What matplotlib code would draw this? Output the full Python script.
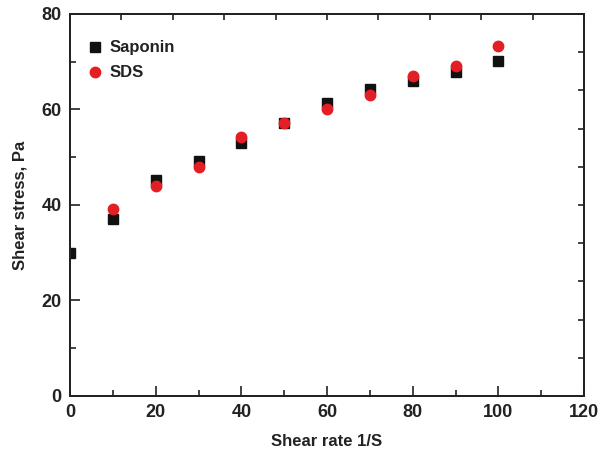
import matplotlib
matplotlib.use("Agg")
import matplotlib.pyplot as plt
import numpy as np

shear_rate_sap = [0, 10, 20, 30, 40, 50, 60, 70, 80, 90, 100]
saponin = [30.0, 37.0, 45.2, 49.2, 53.0, 57.1, 61.3, 64.2, 66.0, 67.9, 70.2]
shear_rate_sds = [10, 20, 30, 40, 50, 60, 70, 80, 90, 100]
sds = [39.1, 44.0, 48.0, 54.2, 57.1, 60.1, 63.0, 67.1, 69.2, 73.2]
x_ticks = [0, 20, 40, 60, 80, 100, 120]
y_ticks = [0, 20, 40, 60, 80]

plt.rcParams['font.family'] = ['Liberation Sans', 'DejaVu Sans']
plt.rcParams['font.weight'] = 'bold'

fig = plt.figure(figsize=(6.05, 4.54), dpi=100)
ax = fig.add_axes([0.1157, 0.1278, 0.8496, 0.8414])

edge = '#222222'
ax.plot(shear_rate_sap, saponin, 's', color='#111111', markersize=6.5, label='Saponin', linestyle='none')
ax.plot(shear_rate_sds, sds, 'o', color='#e31e24', markersize=7.5, label='SDS', linestyle='none')

ax.set_xlim(0, 120)
ax.set_ylim(0, 80)
ax.set_xticks(x_ticks)
ax.set_yticks(y_ticks)
ax.set_xticks(np.arange(10, 120, 20), minor=True)
ax.set_yticks(np.arange(10, 80, 20), minor=True)
ax.tick_params(which='major', direction='in', length=7, width=1.2, labelsize=13, colors=edge, pad=6)
ax.tick_params(which='minor', direction='in', length=4, width=1.2, colors=edge)
ax.tick_params(axis='both', labelcolor='#222222')
for lab in ax.get_xticklabels() + ax.get_yticklabels():
    lab.set_fontweight('bold')
for s in ax.spines.values():
    s.set_linewidth(1.2)
    s.set_color(edge)

axt = ax.twiny()
axt.set_xlim(0, 120)
axt.set_xticks(np.arange(0, 121, 12))
axt.tick_params(direction='in', length=4, width=1.2, labeltop=False, colors=edge)
axr = ax.twinx()
axr.set_ylim(0, 80)
axr.set_yticks(np.arange(0, 81, 8))
axr.tick_params(direction='in', length=4, width=1.2, labelright=False, colors=edge)
for a in (axt, axr):
    for s in a.spines.values():
        s.set_linewidth(1.2)
        s.set_color(edge)

ax.set_xlabel('Shear rate 1/S', fontsize=12, fontweight='bold', color='#222222', labelpad=9)
ax.set_ylabel('Shear stress, Pa', fontsize=12, fontweight='bold', color='#222222', labelpad=10)

leg = ax.legend(loc='upper left', bbox_to_anchor=(0.0, 0.97), frameon=False, fontsize=12,
                handletextpad=0.25, labelspacing=0.6, borderaxespad=0.5, handlelength=1.2)
for t in leg.get_texts():
    t.set_fontweight('bold')
    t.set_color('#222222')

fig.savefig('out.png', dpi=100)
